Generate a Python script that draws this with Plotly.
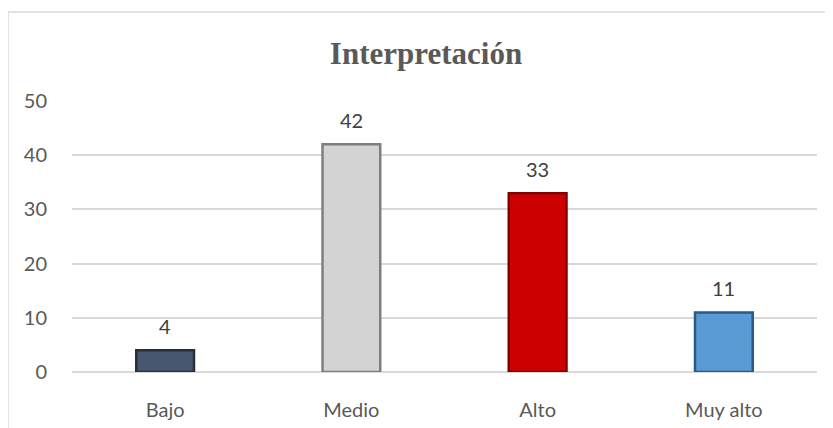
import plotly.graph_objects as go

categories = ["Bajo", "Medio", "Alto", "Muy alto"]
values = [4, 42, 33, 11]
bar_colors = ["#475770", "#d3d3d3", "#cc0000", "#5b9bd5"]
edge_colors = ["#27303d", "#7f7f7f", "#800000", "#2a5a88"]
y_ticks = [0, 10, 20, 30, 40, 50]

# page offset of the figure inside the browser body (default 8px margin)
OFF = 8
W, H = 833, 428
PL, PR, PT, PB = 72, 817, 101, 372  # plot area in window pixels
L = PL - OFF
T = PT - OFF
pw, ph = PR - PL, PB - PT
R = W - L - pw
B = H - T - ph

def px_x(x):
    return (x - PL) / pw

def px_y(y):
    return (PB - y) / ph

font_sans = "Lato, Open Sans, sans-serif"

fig = go.Figure()
fig.add_trace(go.Bar(
    x=categories, y=values,
    width=0.31,
    marker=dict(color=bar_colors, line=dict(color=edge_colors, width=2.5)),
    cliponaxis=False,
))

for c, v in zip(categories, values):
    fig.add_annotation(x=c, y=v, text=str(v), showarrow=False, yshift=24,
                       yanchor="middle", xanchor="center",
                       font=dict(family=font_sans, size=20, color="#404040"))

fig.update_layout(
    width=W, height=H,
    margin=dict(l=L, r=R, t=T, b=B),
    paper_bgcolor="white", plot_bgcolor="white",
    showlegend=False,
    bargap=0.69,
    title=dict(text="<b>Interpretación</b>", x=px_x(426) * pw / W + L / W, xanchor="center",
               y=1 - (53 - OFF) / H, yanchor="middle",
               font=dict(family="Liberation Serif, Times New Roman, serif", size=31, color="#595959")),
    xaxis=dict(showgrid=False, showline=False, ticks="outside", ticklen=20,
               tickcolor="rgba(0,0,0,0)",
               tickfont=dict(family=font_sans, size=20, color="#595959")),
    yaxis=dict(range=[0, 50], tickvals=y_ticks, showgrid=True, gridcolor="#d9d9d9", gridwidth=1.5,
               zeroline=True, zerolinecolor="#d9d9d9", zerolinewidth=1.5, showline=False,
               ticks="outside", ticklen=20, tickcolor="rgba(0,0,0,0)",
               tickfont=dict(family=font_sans, size=20, color="#595959")),
    shapes=[
        dict(type="line", xref="paper", yref="paper", x0=px_x(8), x1=px_x(845), y0=px_y(12), y1=px_y(12),
             line=dict(color="#d9d9d9", width=1.5)),
        dict(type="line", xref="paper", yref="paper", x0=px_x(8), x1=px_x(8), y0=px_y(12), y1=px_y(445),
             line=dict(color="#d9d9d9", width=1.5)),
    ],
)

fig.write_html("out.html")
